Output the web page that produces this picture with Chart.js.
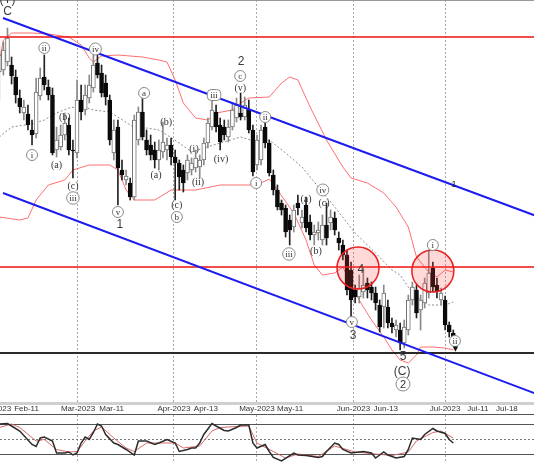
<!DOCTYPE html>
<html><head><meta charset="utf-8">
<script src="https://cdn.jsdelivr.net/npm/chart.js@4/dist/chart.umd.min.js"></script>
<style>
html,body{margin:0;padding:0;background:#fff;overflow:hidden;width:534px;height:462px}
#main{position:absolute;left:0;top:0}
#osc{position:absolute;left:0;top:402px}
</style></head><body>
<canvas id="main" width="534" height="402"></canvas>
<canvas id="osc" width="534" height="60"></canvas>
<script>
// ---- data (bar number = position in array + 1) ----
const opens = [192.8,193.0,193.8,193.5,192.3,190.2,188.7,188.6,187.0,186.6,
190.4,192.3,191.3,190.5,185.0,185.3,186.5,187.5,185.0,184.7,
190.0,189.0,190.2,191.2,193.7,192.7,191.7,190.0,184.7,187.3,
183.0,182.0,181.7,180.3,186.0,188.8,186.0,185.5,185.0,184.0,
184.8,185.0,185.5,184.3,183.7,183.0,182.7,183.0,183.2,183.3,
184.0,185.7,187.3,188.8,187.5,187.3,186.3,187.3,188.2,188.7,
188.3,189.0,187.0,183.5,184.0,187.3,185.7,182.5,181.0,179.7,
179.2,178.0,177.3,179.7,177.7,179.5,177.8,176.5,176.7,176.0,
177.5,177.7,178.2,176.2,175.5,174.5,173.0,171.0,170.3,170.8,
171.7,171.3,170.7,169.5,169.3,169.3,167.7,167.0,167.0,165.7,
167.0,170.0,171.0,169.0,169.7,170.7,173.2,171.5,170.0,170.0,
167.5,166.7];
const highs = [195.5,195.8,197.2,194.3,193.0,191.0,190.0,189.5,188.0,192.2,
193.2,194.5,192.0,191.2,187.3,187.5,188.7,188.2,186.0,192.0,
191.5,191.5,192.5,194.5,195.0,193.5,192.5,190.5,188.0,188.0,
184.0,183.0,182.2,188.5,189.3,190.7,187.0,186.5,185.8,186.0,
187.8,186.2,186.2,185.0,184.0,183.5,184.5,184.2,185.0,184.5,
186.2,188.2,190.3,189.5,188.2,188.0,188.0,189.7,190.2,190.7,
190.3,190.0,187.5,186.5,187.5,188.0,186.0,183.0,181.5,180.0,
179.5,178.5,179.5,180.5,179.0,180.3,178.5,177.5,177.8,178.5,
179.7,179.0,178.8,176.8,176.0,175.0,173.8,171.5,172.5,173.2,
172.2,171.8,171.3,170.0,171.5,170.0,168.2,168.0,167.7,168.0,
170.5,171.8,171.5,170.5,172.2,175.0,173.8,172.2,171.2,170.4,
167.8,167.0];
const lows = [190.0,192.5,193.4,191.6,189.7,188.7,188.0,187.0,185.5,186.2,
190.0,191.0,190.0,184.5,184.3,185.0,186.0,184.5,182.2,184.2,
188.0,188.5,189.7,190.8,192.2,190.3,189.5,185.5,184.0,179.5,
182.0,181.5,180.0,180.0,185.5,186.0,184.5,184.0,183.2,183.0,
184.2,184.0,183.5,180.0,181.0,180.8,182.0,182.5,182.8,182.2,
183.5,185.2,187.0,186.8,185.0,186.0,185.8,187.0,187.8,188.0,
188.0,186.7,182.4,183.0,183.5,185.2,182.4,180.5,179.0,178.5,
176.3,175.5,176.8,178.5,177.2,176.8,176.0,175.5,176.0,175.5,
175.5,177.0,176.5,175.0,174.0,170.5,168.3,169.7,169.7,170.2,
170.2,170.0,169.0,166.8,167.2,167.2,166.7,166.3,165.0,165.2,
166.5,169.5,168.2,167.0,169.2,170.2,170.8,170.2,169.5,167.0,
166.3,165.5];
const closes = [194.5,195.0,196.2,192.4,190.5,189.3,189.3,187.5,186.5,190.8,
192.2,191.5,190.5,184.7,186.0,186.5,187.7,185.0,184.9,190.0,
188.8,190.5,191.5,193.5,192.5,190.7,190.3,186.0,187.0,183.2,
182.5,182.4,180.3,188.0,188.8,186.3,185.0,184.5,184.0,185.0,
185.8,185.5,184.3,183.7,182.3,181.7,184.0,183.7,184.2,184.0,
185.7,187.7,189.0,187.3,185.8,186.5,187.3,189.0,189.5,188.3,
189.5,187.0,182.8,186.0,187.0,185.7,182.7,181.0,179.3,179.0,
176.8,177.0,179.0,179.2,178.3,177.2,176.5,176.8,177.0,177.5,
176.2,178.3,177.0,175.7,174.5,171.0,170.0,170.3,171.2,171.5,
171.0,170.7,169.7,167.3,170.7,167.7,167.3,167.5,165.7,167.3,
170.0,171.3,168.7,170.0,171.7,172.7,171.3,170.8,170.7,167.5,
166.8,165.8];

const upperBand = [[1,193.8],[2,196.0],[4,196.7],[9,196.7],[13,196.6],[18,196.3],[21,195.5],[23,194.2],[24,193.8],[26,194.4],[30,194.5],[36,194.3],[40,194.0],[42,193.8],[44,192.0],[46,189.7],[49,188.2],[52,188.0],[54,188.7],[58,189.0],[60,189.7],[62,190.2],[67,190.3],[70,191.7],[72,192.3],[74,192.0],[77,189.3],[81,186.0],[85,183.3],[87,182.2],[91,181.7],[95,180.7],[98,179.3],[101,177.3],[103,174.3],[106,172.8],[108,172.3],[110,173.0],[112,172.8]];
const lowerBand = [[1,178.3],[6,178.0],[8,178.2],[10,180.0],[12,181.0],[13,181.5],[17,182.0],[19,183.0],[23,183.5],[28,183.5],[30,183.0],[32,181.0],[34,180.0],[39,180.0],[43,181.0],[49,181.0],[55,181.5],[61,181.5],[64,181.5],[67,182.1],[69,181.0],[73,178.7],[76,176.0],[78,173.5],[80,172.5],[83,172.7],[85,173.3],[88,170.7],[90,169.3],[92,168.0],[95,166.3],[97,165.0],[99,164.0],[101,163.7],[103,164.5],[104,165.3],[107,165.3],[110,165.2],[112,165.0]];
const midBand = [[1,186.3],[4,187.3],[9,187.6],[12,188.0],[15,188.7],[18,189.2],[21,189.4],[24,189.0],[28,188.8],[30,188.3],[33,187.5],[35,187.0],[37,187.2],[40,187.0],[42,186.5],[45,185.7],[48,184.8],[51,185.2],[55,185.7],[60,186.3],[64,185.8],[67,186.0],[71,184.7],[75,183.3],[79,181.3],[83,179.3],[88,176.7],[93,174.7],[97,173.0],[99,172.5],[102,170.7],[104,170.0],[106,169.5],[110,169.5],[112,169.8]];

const oscK = [[1,80],[3,81],[4,76],[6,66],[9,39],[10,35],[11,52],[12,54],[14,46],[15,22],[17,22],[18,24],[19,18],[20,22],[21,42],[22,54],[23,49],[24,63],[25,80],[26,76],[27,59],[29,42],[30,39],[32,29],[34,18],[35,46],[37,46],[39,39],[40,42],[42,49],[44,42],[45,25],[47,29],[48,32],[49,32],[50,42],[51,59],[53,81],[54,76],[56,67],[57,66],[59,73],[60,78],[62,78],[63,42],[64,32],[66,39],[67,25],[68,13],[70,6],[73,22],[74,18],[76,17],[79,13],[80,15],[81,25],[83,42],[84,39],[85,29],[87,22],[89,24],[90,25],[92,22],[93,12],[95,24],[96,18],[98,12],[100,15],[101,29],[102,52],[104,49],[105,59],[107,71],[108,66],[110,61],[111,49],[112,42]];
const oscD = [[1,73],[4,80],[6,73],[10,46],[12,49],[15,29],[18,24],[20,25],[22,46],[24,66],[26,74],[29,52],[32,32],[34,25],[37,42],[40,42],[44,42],[46,32],[50,36],[53,66],[55,73],[59,75],[62,76],[64,42],[68,25],[71,12],[74,20],[79,15],[83,36],[88,24],[93,20],[97,17],[101,24],[103,46],[107,63],[109,66],[112,52]];
const oscLevels = [80, 50, 20];

const trendUpper = [[1.9,198.2],[133,178.3]];
const trendLower = [[1.9,180.7],[133,160.5]];
const redLevels = [196.3, 173.3];
const blackLevels = [164.7];
const highlights = [[88.7,173.2],[107,172.9]];

const tickPos = [-0.3,7.65,20.24,28.46,43.7,51.5,64.0,72.1,87.6,95.5,110.0,118.0,125.1];
const tickLabels = ['Feb-2023','Feb-11','Mar-2023','Mar-11','Apr-2023','Apr-13','May-2023','May-11','Jun-2023','Jun-13','Jul-2023','Jul-11','Jul-18'];

const waveLabels = [
 ['(Y)',3,200.0,'big'],['C',3,198.8,'big'],
 ['i',9,184.5,'circ'],['ii',12,195.2,'circ'],['(a)',15,183.5,'paren'],['(b)',17,188.3,'paren'],
 ['(c)',19,181.4,'paren'],['iii',19,180.2,'circ'],['iv',24.5,195.1,'circ'],
 ['v',30,178.8,'circ'],['1',30.5,177.5,'big'],
 ['a',36.4,190.7,'circ'],['(b)',41.8,187.8,'paren'],['(a)',39.3,182.5,'paren'],
 ['(c)',44.4,179.5,'paren'],['b',44.4,178.3,'circ'],
 ['(i)',48.6,185.1,'paren'],['(ii)',49.6,181.8,'paren'],['iii',53.5,190.5,'oval'],['(iv)',55.2,184.1,'paren'],
 ['(v)',59.9,191.2,'paren'],['c',59.9,192.4,'circ'],['2',60.1,193.8,'big'],
 ['i',63.8,181.7,'circ'],['ii',66,188.3,'circ'],['iii',71.8,174.6,'circ'],
 ['(a)',76,180.1,'paren'],['(b)',78.4,174.9,'paren'],['iv',80.1,181.0,'circ'],['(c)',80.4,179.7,'paren'],
 ['v',87.2,167.8,'circ'],['3',87.5,166.4,'big'],['4',89.4,173.0,'big'],
 ['5',99.7,164.3,'big'],['(C)',99.5,162.8,'big'],['2',99.7,161.6,'circbig'],
 ['i',107,175.5,'circ'],['ii',112.4,165.9,'circ'],['▼',112.5,165.1,'arrow'],['1',112.2,181.5,'small']
];

const X_MIN = 1.17, X_MAX = 131.73;
const isMonth = i => tickLabels[i] && tickLabels[i].endsWith('2023');
const up = i => closes[i] >= opens[i];

const wavePlugin = {
 id:'waves',
 afterDatasetsDraw(chart){
  const {ctx, scales:{x,y}} = chart;
  ctx.save();
  ctx.strokeStyle='#999'; ctx.lineWidth=1;
  ctx.beginPath(); ctx.moveTo(0,0.5); ctx.lineTo(534,0.5); ctx.stroke();
  ctx.textAlign='center'; ctx.textBaseline='middle';
  for (const [t,i,p,k] of waveLabels){
   const px = x.getPixelForValue(i), py = y.getPixelForValue(p);
   if (k==='big'){ ctx.font='12px "Liberation Sans"'; ctx.fillStyle='#3c3c3c'; ctx.fillText(t,px,py); }
   else if (k==='small'){ ctx.font='9px "Liberation Sans"'; ctx.fillStyle='#222'; ctx.fillText(t,px,py); }
   else if (k==='arrow'){ ctx.font='7px "DejaVu Sans"'; ctx.fillStyle='#111'; ctx.fillText(t,px,py); }
   else if (k==='paren'){ ctx.font='10px "Liberation Serif"'; ctx.fillStyle='#333'; ctx.fillText(t,px,py); }
   else {
     ctx.font = k==='circbig' ? '11px "Liberation Sans"' : '9px "Liberation Serif"';
     const w = ctx.measureText(t).width;
     ctx.beginPath();
     if (k==='oval'){ const hw=Math.max(6,w/2+3); ctx.roundRect(px-hw,py-5.5,hw*2,11,4); }
     else { const r = Math.max(k==='circbig'?7:5.5, w/2+2.5); ctx.arc(px,py,r,0,Math.PI*2); }
     ctx.fillStyle='#fff'; ctx.fill(); ctx.strokeStyle='#8a8a8a'; ctx.lineWidth=1; ctx.stroke();
     ctx.fillStyle='#333'; ctx.fillText(t,px,py+0.5);
   }
  }
  ctx.restore();
 }
};

const pts = a => a.map(([x,y]) => ({x,y}));
const hline = v => [{x:X_MIN-1,y:v},{x:X_MAX+1,y:v}];
const lineDs = (data, color, w, extra) => Object.assign({type:'line', data, borderColor:color, borderWidth:w, pointRadius:0, fill:false, tension:0}, extra||{});

const datasets = [
 {type:'scatter', data: pts(highlights), pointRadius:21, pointHoverRadius:21, backgroundColor:'rgba(255,60,60,0.2)', borderColor:'#e82020', borderWidth:1.5, order:0},
 lineDs(pts(trendUpper),'#1c1cf0',2,{order:1}),
 lineDs(pts(trendLower),'#1c1cf0',2,{order:1}),
 ...redLevels.map(v => lineDs(hline(v),'#ee1111',1.5,{order:2})),
 ...blackLevels.map(v => lineDs(hline(v),'#2a2a2a',2,{order:2})),
 {type:'bar', data: opens.map((o,k)=>({x:k+1, y:[o, closes[k]]})), barThickness:4, minBarLength:1, grouped:false,
  backgroundColor: c => up(c.dataIndex) ? '#ffffff' : '#0a0a0a',
  borderColor: c => up(c.dataIndex) ? '#707070' : '#0a0a0a', borderWidth:1, borderSkipped:false, order:3},
 {type:'bar', data: lows.map((l,k)=>({x:k+1, y:[l, highs[k]]})), barThickness:1, grouped:false,
  backgroundColor: c => up(c.dataIndex) ? '#8a8a8a' : '#222222', borderWidth:0, order:4},
 lineDs(pts(upperBand),'#ff6f6f',1,{order:5}),
 lineDs(pts(lowerBand),'#ff6f6f',1,{order:5}),
 lineDs(pts(midBand),'#8c8c8c',1,{order:6, borderDash:[2,2]})
];

const noPad = s => { s.paddingLeft = 0; s.paddingRight = 0; s.paddingTop = 0; s.paddingBottom = 0; };

new Chart(document.getElementById('main'), {
 type:'bar',
 data:{datasets},
 options:{
  responsive:false, animation:false, devicePixelRatio:1,
  layout:{padding:0, autoPadding:false},
  plugins:{legend:{display:false}, tooltip:{enabled:false}},
  scales:{
   x:{type:'linear', min:X_MIN, max:X_MAX, offset:false,
      afterBuildTicks: s => { s.ticks = tickPos.filter((v,i)=>isMonth(i) && v>X_MIN).map(v=>({value:v})); },
      afterFit: s => { s.height = 0; noPad(s); },
      ticks:{display:false},
      grid:{offset:false, color:'#a8a8a8', lineWidth:1, drawTicks:false},
      border:{display:false, dash:[2,2]}},
   y:{display:false, min:159.8, max:200}
  }
 },
 plugins:[wavePlugin]
});

const oscPlugin = {
 id:'oscdeco',
 beforeDraw(chart){
  const {ctx} = chart; ctx.save(); ctx.fillStyle='#cfcfcf'; ctx.fillRect(0,0,534,3); ctx.restore();
 },
 beforeDatasetsDraw(chart){
  const {ctx, scales:{y}, chartArea:a} = chart;
  ctx.save();
  oscLevels.forEach(v => {
   const py = Math.round(y.getPixelForValue(v))+0.5;
   ctx.beginPath(); ctx.setLineDash(v===50?[2,2]:[]);
   ctx.strokeStyle = v===50 ? '#777' : '#555'; ctx.lineWidth=1;
   ctx.moveTo(a.left,py); ctx.lineTo(a.right,py); ctx.stroke();
  });
  ctx.restore();
 }
};

new Chart(document.getElementById('osc'), {
 type:'line',
 data:{datasets:[
  {data: pts(oscK), borderColor:'#2b2b2b', borderWidth:1.5, pointRadius:0, tension:0},
  {data: pts(oscD), borderColor:'#d86a6a', borderWidth:1, pointRadius:0, tension:0}
 ]},
 options:{
  responsive:false, animation:false, devicePixelRatio:1,
  layout:{padding:0, autoPadding:false},
  plugins:{legend:{display:false}, tooltip:{enabled:false}},
  scales:{
   x:{type:'linear', position:'top', min:X_MIN, max:X_MAX, offset:false,
      afterBuildTicks: s => { s.ticks = tickPos.map(v=>({value:v})); },
      afterFit: s => { s.height = 12; noPad(s); },
      ticks:{autoSkip:false, maxRotation:0, minRotation:0, padding:0, font:{family:'"Liberation Sans"', size:8}, color:'#333',
        callback:(v,i)=>tickLabels[i]},
      grid:{offset:false, drawTicks:false, color: c => isMonth(c.index) ? '#a8a8a8' : 'rgba(0,0,0,0)'},
      border:{display:true, color:'#555', width:1, dash:[2,2]}},
   y:{display:false, min:4, max:100}
  }
 },
 plugins:[oscPlugin]
});
</script>
</body></html>
